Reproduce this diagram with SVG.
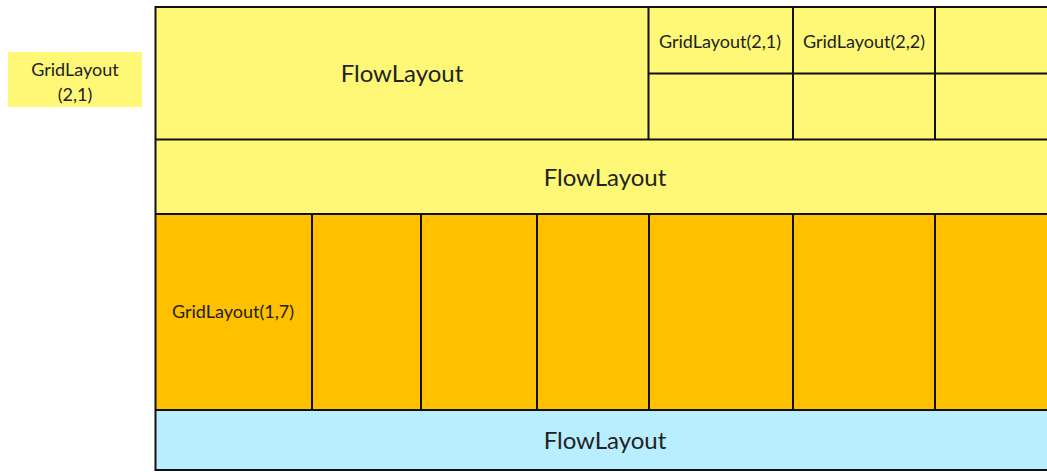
<svg xmlns="http://www.w3.org/2000/svg" width="1047" height="472" viewBox="0 0 1047 472">
<style>
.y{fill:#fff877}
.o{fill:#ffc000}
.b{fill:#b8eeff}
.ln{stroke:#111;stroke-width:2;fill:none}
.t{font-family:Lato,"Liberation Sans",sans-serif;fill:#222;text-anchor:middle}
.big{font-size:24px}
.sm{font-size:18px}
</style>
<rect width="1047" height="472" fill="#fff"/>
<g id="side">
<rect class="y" x="8" y="52" width="134" height="55"/>
<text class="t sm" x="75" y="76">GridLayout</text>
<text class="t sm" x="75" y="101">(2,1)</text>
</g>
<g id="row1">
<rect class="y" x="155" y="7" width="900" height="132"/>
<text class="t big" x="402" y="82">FlowLayout</text>
<text class="t sm" x="720" y="48">GridLayout(2,1)</text>
<text class="t sm" x="864" y="48">GridLayout(2,2)</text>
</g>
<g id="row2">
<rect class="y" x="155" y="139" width="900" height="75"/>
<text class="t big" x="605" y="186">FlowLayout</text>
</g>
<g id="row3">
<rect class="o" x="155" y="214" width="900" height="196"/>
<text class="t sm" x="233" y="318">GridLayout(1,7)</text>
</g>
<g id="row4">
<rect class="b" x="155" y="410" width="900" height="60"/>
<text class="t big" x="605" y="449">FlowLayout</text>
</g>
<g id="lines">
<rect class="ln" x="155.5" y="7" width="900" height="463" stroke="#333"/>
<path class="ln" d="M155 139.5H1047M155 214H1047M155 410H1047M648.5 7V139M793 7V139M935 7V139M648.5 73.5H1047M312 214V410M421 214V410M537 214V410M649 214V410M793 214V410M935 214V410"/>
</g>
</svg>
